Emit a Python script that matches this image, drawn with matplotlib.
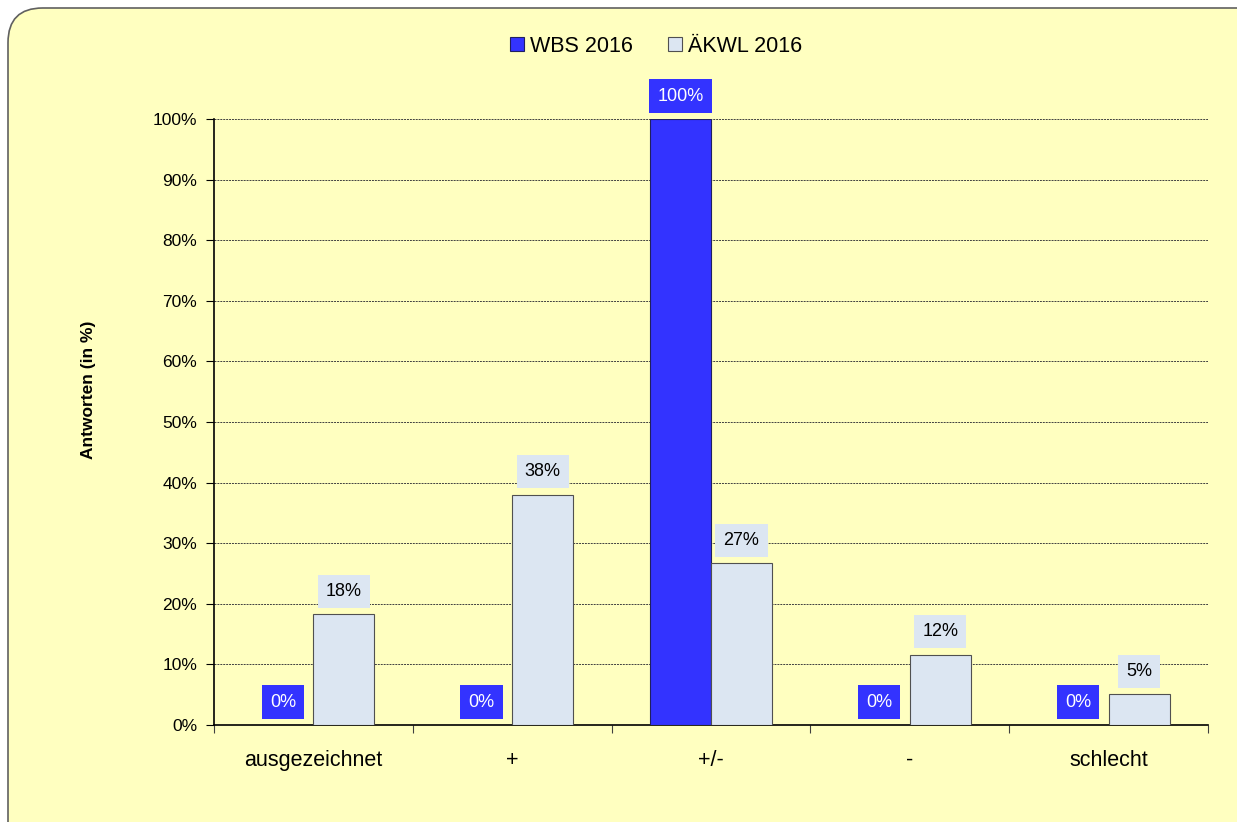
import matplotlib.pyplot as plt
import numpy as np
from matplotlib.patches import FancyBboxPatch

categories = ["ausgezeichnet", "+", "+/-", "-", "schlecht"]
wbs_2016 = [0, 0, 100, 0, 0]
akwl_2016 = [18.3, 38.0, 26.7, 11.6, 5.1]
wbs_labels = ["0%", "0%", "100%", "0%", "0%"]
akwl_labels = ["18%", "38%", "27%", "12%", "5%"]

plt.rcParams['font.family'] = ['Liberation Sans', 'DejaVu Sans']

W, H = 1237, 822
fig = plt.figure(figsize=(W / 100, H / 100), dpi=100)
fig.patch.set_facecolor('white')

# rounded yellow panel behind everything
panel = FancyBboxPatch((8 / W, -0.05), 1.05, 1.05 - 8 / H,
                       boxstyle="round,pad=0,rounding_size=0.028",
                       transform=fig.transFigure, facecolor='#FFFFC0',
                       edgecolor='#606060', linewidth=1.2, zorder=-5,
                       mutation_aspect=W / H)
fig.patches.append(panel)

ax = fig.add_axes([214 / W, 1 - 725 / H, (1208 - 214) / W, (725 - 119) / H])
ax.set_facecolor('none')
ax.set_zorder(2)

x = np.arange(len(categories))
bw = 0.307
ax.bar(x - bw / 2, wbs_2016, bw, color='#3333FF', edgecolor='#202060',
       linewidth=0.8, label='WBS 2016', zorder=3)
ax.bar(x + bw / 2, akwl_2016, bw, color='#DCE6F2', edgecolor='#505050',
       linewidth=0.8, label='ÄKWL 2016', zorder=3)

for i in range(len(categories)):
    ax.annotate(wbs_labels[i], (x[i] - bw / 2, wbs_2016[i]), xytext=(0, 16.5),
                textcoords='offset points', ha='center', va='center',
                fontsize=13, color='white', zorder=5, annotation_clip=False,
                bbox=dict(boxstyle='square,pad=0.45', fc='#3333FF', ec='none'))
    ax.annotate(akwl_labels[i], (x[i] + bw / 2, akwl_2016[i]), xytext=(0, 16.5),
                textcoords='offset points', ha='center', va='center',
                fontsize=13, color='black', zorder=5, annotation_clip=False,
                bbox=dict(boxstyle='square,pad=0.45', fc='#DCE6F2', ec='none'))

ax.set_xlim(-0.5, len(categories) - 0.5)
ax.set_ylim(0, 100)
ax.set_yticks(np.arange(0, 101, 10))
ax.set_yticklabels([f"{v}%" for v in range(0, 101, 10)], fontsize=12.5)
ax.yaxis.grid(True, linestyle=(0, (2, 1)), color='#404040', linewidth=0.7, zorder=1)
ax.set_axisbelow(True)

ax.set_xticks(np.arange(-0.5, len(categories), 1.0))
ax.set_xticklabels([])
ax.set_xticks(x, minor=True)
ax.set_xticklabels(categories, minor=True, fontsize=15.5)
ax.tick_params(axis='x', which='minor', length=0, pad=18)
ax.tick_params(axis='x', which='major', length=6, direction='out', color='#404040')
ax.tick_params(axis='y', length=6, direction='out', pad=6)

for s in ['top', 'right']:
    ax.spines[s].set_visible(False)
ax.spines['left'].set_linewidth(1.2)
ax.spines['bottom'].set_linewidth(1.2)

fig.text(88 / W, 1 - 390 / H, "Antworten (in %)", rotation=90, ha='center',
         va='center', fontsize=12.5, fontweight='bold')

leg = fig.legend(loc='center', bbox_to_anchor=(656 / W, 1 - 46 / H), ncol=2,
                 frameon=False, fontsize=15.5, handlelength=0.65, handleheight=0.65,
                 handletextpad=0.3, columnspacing=1.6)

fig.savefig('out.png', dpi=100)
